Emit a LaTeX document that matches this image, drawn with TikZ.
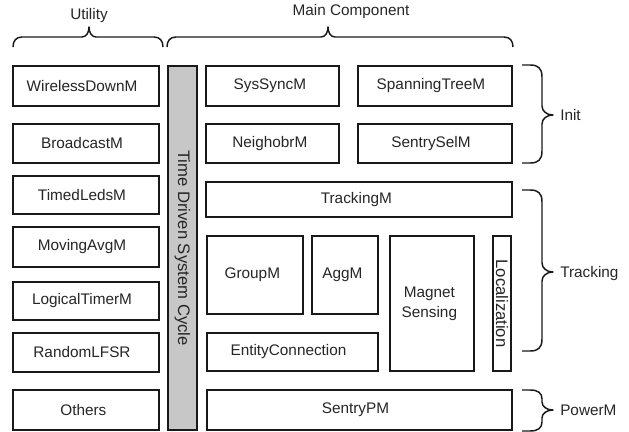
\documentclass[tikz,border=0pt]{standalone}
\usepackage{fontspec}
\setmainfont{Liberation Sans}
\usetikzlibrary{fit}
\newcommand\hbr[3]{%
 \draw[brc] (#1,47) .. controls (#1,41) and (#1+3,37) .. (#1+9,37) -- (#3-7,37)
   .. controls (#3-3,37) and (#3,33) .. (#3,27)
   .. controls (#3,33) and (#3+3,37) .. (#3+7,37) -- (#2-9,37)
   .. controls (#2-3,37) and (#2,41) .. (#2,47);}
\newcommand\vbr[5]{%
 \draw[brc] (522,#1) -- (530,#1) .. controls (538,#1) and (542,#1+3) .. (542,#1+#4)
   -- (542,#3-#5) .. controls (542,#3-#5*0.4) and (547,#3) .. (553,#3)
   .. controls (547,#3) and (542,#3+#5*0.4) .. (542,#3+#5)
   -- (542,#2-#4) .. controls (542,#2-3) and (538,#2) .. (530,#2) -- (522,#2);}
\newcommand\modbox[7]{%
 \node[box,fit={(#2,#3)(#4,#5)}] (#1) {};
 \node[lbl,xshift=#7] (#1-t) at (#1.center) {#6};}
\begin{document}
\begin{tikzpicture}[x=0.75pt,y=-0.75pt,
  box/.style={draw=black!90,line width=1.3pt,inner sep=0pt,fill=white},
  bar/.style={box,fill=black!22},
  lbl/.style={font=\fontsize{11.5}{15}\selectfont,inner sep=0pt,align=center,text=black!85},
  vlbl/.style={lbl,font=\fontsize{12.5}{15}\selectfont,rotate=-90},
  brc/.style={draw=black!90,line width=1.1pt,line join=round}]
\useasboundingbox (0,0) rectangle (629,432);

% top labels and braces
\node[lbl,anchor=base] (utility) at (89,20) {Utility};
\node[lbl,anchor=base] (maincomp) at (351,16) {Main Component};
\hbr{13}{163}{89}
\hbr{167}{513}{328}

% utility column
\modbox{wd}{13}{66}{159}{106}{WirelessDownM}{-3pt}
\modbox{bc}{13}{124}{159}{163}{BroadcastM}{-3pt}
\modbox{tl}{13}{176}{159}{214}{TimedLedsM}{-3pt}
\modbox{ma}{13}{227}{159}{267}{MovingAvgM}{-3pt}
\modbox{lt}{13}{282}{159}{320}{LogicalTimerM}{-3pt}
\modbox{rl}{13}{333}{159}{372}{RandomLFSR}{-3pt}
\modbox{ot}{13}{390}{159}{430}{Others}{-2pt}

% time driven bar
\node[bar,fit={(168,66)(197,430)}] (tdsc) {};
\node[vlbl] (tdsc-t) at (tdsc.center) {Time Driven System Cycle};

% main component
\modbox{ss}{206}{66}{339}{106}{SysSyncM}{-2pt}
\modbox{st}{358}{66}{512}{106}{SpanningTreeM}{-3pt}
\modbox{nb}{206}{124}{339}{163}{NeighobrM}{-2pt}
\modbox{sel}{358}{124}{512}{163}{SentrySelM}{-3pt}
\modbox{tr}{206}{182}{512}{217}{TrackingM}{-2pt}
\modbox{gr}{207}{236}{303}{314}{GroupM}{-2pt}
\modbox{ag}{312}{236}{378}{314}{AggM}{-2pt}
\modbox{mg}{390}{236}{474}{371}{Magnet\\Sensing}{-2pt}
\node[box,fit={(493,236)(511,371)}] (loc) {};
\node[vlbl] (loc-t) at (loc.center) {Localization};
\modbox{ec}{207}{333}{378}{371}{EntityConnection}{-3pt}
\modbox{sp}{207}{390}{512}{430}{SentryPM}{-3pt}

% right braces and labels
\vbr{65}{163}{115}{12}{9}
\vbr{190}{351}{272}{12}{9}
\vbr{390}{431}{410}{9}{8}
\node[lbl,anchor=base west] (init) at (560,120.5) {Init};
\node[lbl,anchor=base west] (tracking) at (560,277.5) {Tracking};
\node[lbl,anchor=base west] (powerm) at (560,415.5) {PowerM};
\end{tikzpicture}
\end{document}
